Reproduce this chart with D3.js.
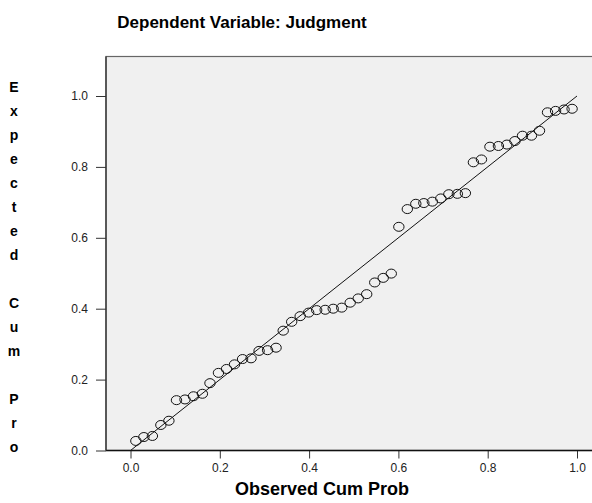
<!DOCTYPE html>
<html>
<head>
<meta charset="utf-8">
<script src="https://cdn.jsdelivr.net/npm/d3@7"></script>
<style>
  body { margin: 0; background: #fff; }
  svg { display: block; font-family: Arial, "Liberation Sans", sans-serif; }
</style>
</head>
<body>
<svg id="chart" width="592" height="503"></svg>
<script>
// Observed cumulative probability (x) and expected cumulative probability (y)
const observed = [
  0.012, 0.030, 0.049, 0.068, 0.086, 0.103, 0.122, 0.141, 0.161, 0.178,
  0.197, 0.215, 0.233, 0.251, 0.270, 0.288, 0.307, 0.326, 0.342, 0.361,
  0.380, 0.399, 0.417, 0.436, 0.454, 0.473, 0.492, 0.510, 0.529, 0.547,
  0.566, 0.584, 0.601, 0.620, 0.639, 0.657, 0.676, 0.695, 0.713, 0.732,
  0.750, 0.768, 0.786, 0.805, 0.824, 0.843, 0.861, 0.878, 0.898, 0.916,
  0.934, 0.952, 0.971, 0.989
];
const expected = [
  0.027, 0.038, 0.041, 0.072, 0.084, 0.142, 0.144, 0.153, 0.160, 0.190,
  0.219, 0.230, 0.243, 0.258, 0.260, 0.281, 0.283, 0.290, 0.338, 0.363,
  0.379, 0.389, 0.396, 0.397, 0.400, 0.403, 0.417, 0.429, 0.441, 0.474,
  0.487, 0.499, 0.631, 0.681, 0.696, 0.698, 0.702, 0.711, 0.723, 0.724,
  0.726, 0.813, 0.821, 0.857, 0.859, 0.863, 0.873, 0.888, 0.888, 0.902,
  0.954, 0.958, 0.962, 0.964
];
const ticks = [0, 0.2, 0.4, 0.6, 0.8, 1.0];
const title = "Dependent Variable: Judgment";
const xTitle = "Observed Cum Prob";
const yTitle = "Expected Cum Pro";

const svg = d3.select('#chart');

// plot frame
const frame = { left: 106, top: 56.5, right: 600, bottom: 450.5 };

const x = d3.scaleLinear().domain([0, 1]).range([130.5, 577]);
const y = d3.scaleLinear().domain([0, 1]).range([450.5, 96]);

svg.append('rect')
  .attr('x', frame.left)
  .attr('y', frame.top)
  .attr('width', frame.right - frame.left)
  .attr('height', frame.bottom - frame.top)
  .attr('fill', '#f0f0f0')
  .attr('stroke', '#666')
  .attr('stroke-width', 1.2);

// axes
const xAxis = d3.axisBottom(x)
  .tickValues(ticks)
  .tickFormat(d3.format('.1f'))
  .tickSize(8)
  .tickPadding(5);

const yAxis = d3.axisLeft(y)
  .tickValues(ticks)
  .tickFormat(d3.format('.1f'))
  .tickSize(10)
  .tickPadding(8);

const gx = svg.append('g')
  .attr('transform', `translate(0,${frame.bottom})`)
  .call(xAxis);
gx.select('.domain').remove();

const gy = svg.append('g')
  .attr('transform', `translate(${frame.left},0)`)
  .call(yAxis);
gy.select('.domain').remove();

[gx, gy].forEach(g => {
  g.selectAll('text')
    .style('font-family', 'Arial, "Liberation Sans", sans-serif')
    .style('font-size', '12px')
    .attr('fill', '#222');
  g.selectAll('line').attr('stroke', '#333');
});

// axis lines drawn over the frame
svg.append('line')
  .attr('x1', frame.left).attr('x2', frame.right)
  .attr('y1', frame.bottom).attr('y2', frame.bottom)
  .attr('stroke', '#111').attr('stroke-width', 1.3);
svg.append('line')
  .attr('x1', frame.left).attr('x2', frame.left)
  .attr('y1', frame.top).attr('y2', frame.bottom)
  .attr('stroke', '#333').attr('stroke-width', 1.3);

// reference diagonal
svg.append('line')
  .attr('x1', x(0)).attr('y1', y(0))
  .attr('x2', x(1)).attr('y2', y(1))
  .attr('stroke', '#111')
  .attr('stroke-width', 1);

// points
svg.append('g')
  .selectAll('ellipse')
  .data(observed.map((d, i) => ({ x: d, y: expected[i] })))
  .enter()
  .append('ellipse')
  .attr('cx', d => x(d.x))
  .attr('cy', d => y(d.y))
  .attr('rx', 5.2)
  .attr('ry', 4.5)
  .attr('fill', 'none')
  .attr('stroke', '#111')
  .attr('stroke-width', 1);

// titles
svg.append('text')
  .attr('x', 242)
  .attr('y', 28)
  .attr('text-anchor', 'middle')
  .style('font-weight', 'bold')
  .style('font-size', '17px')
  .text(title);

svg.append('text')
  .attr('x', 322)
  .attr('y', 495)
  .attr('text-anchor', 'middle')
  .style('font-weight', 'bold')
  .style('font-size', '18px')
  .text(xTitle);

// vertical stacked y title
const letters = yTitle.split('');
svg.append('g')
  .selectAll('text')
  .data(letters)
  .enter()
  .append('text')
  .attr('x', 14)
  .attr('y', (d, i) => 92 + i * 24)
  .attr('text-anchor', 'middle')
  .style('font-weight', 'bold')
  .style('font-size', '14px')
  .text(d => d);
</script>
</body>
</html>
